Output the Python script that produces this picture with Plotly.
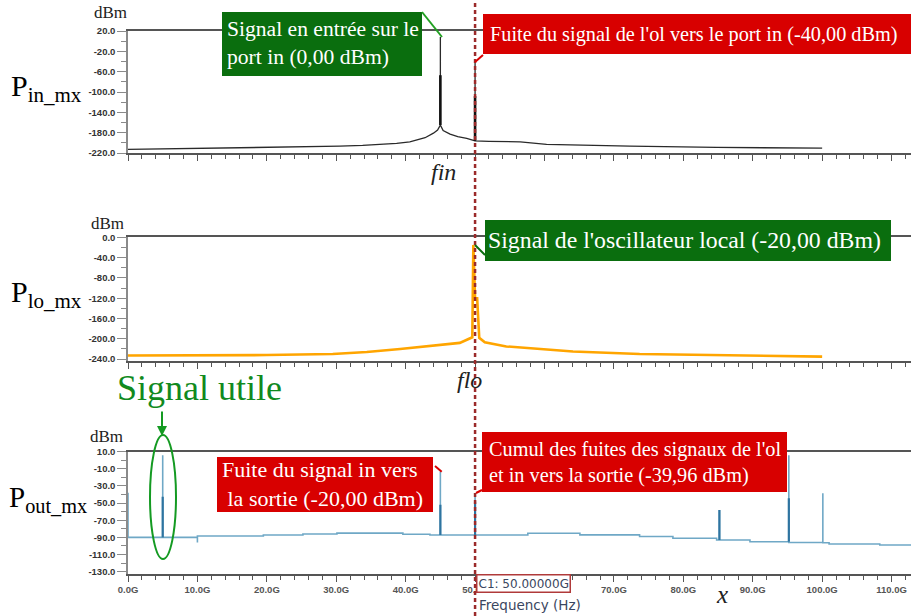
import plotly.graph_objects as go

# ---------------- data (frequency in GHz, power in dBm) ----------------
pin_freq = [0, 11.4, 21.0, 26.6, 30.5, 33.8, 36.8, 38.7, 40.6, 41.6, 42.8, 44.0, 44.6, 45.0, 45.0, 45.0,
            45.4, 46.4, 47.5, 48.8, 50.0, 50.0, 50.0, 52.0, 56.5, 60.3, 65.5, 72.3, 84.8, 100.0]
pin_power = [-213, -211, -209, -208, -206.6, -205, -203, -201, -198, -194, -190, -181, -175, -165, 8, -165,
             -176, -183, -188, -191, -196, -40, -196, -197, -198, -203, -205, -206.5, -209, -210.5]
pin_spike_freq = [45, 50]
pin_spike_base = [-165, -196]
pin_spike_top = [-67, -108]

plo_freq = [0, 20, 29.5, 34.4, 39.2, 43.9, 47.8, 49.6, 49.75, 50.0, 50.3, 50.6, 51.4, 54.5, 64.1, 73.7, 83.4, 100]
plo_power = [-233, -232, -230, -226, -220, -214, -208, -197, -15, -120, -120, -198, -207, -215, -225, -230, -232, -235]

pout_freq = [0, 0, 5, 5, 5, 10, 10, 10, 19.5, 25.2, 30.1, 39.6, 43.5, 45, 45, 45, 50, 50, 50,
             57.6, 65.1, 73.7, 78.5, 84.8, 85.2, 85.2, 85.2, 89.6, 95.2, 95.2, 95.2,
             100.1, 100.1, 100.1, 101, 108.3, 112.8]
pout_power = [-38, -90, -90, 6, -90, -90, -96, -88.4, -87.2, -86, -85, -86.4, -87.2, -87.2, -13, -87.2,
              -87.2, -38.5, -87.2, -85.2, -87, -89, -91, -93, -93, -58, -93, -95, -95, 6, -96,
              -96, -38.5, -96.2, -97.7, -98.9, -98.9]
pout_spike_freq = [5, 45, 50, 85.2, 95.2]
pout_spike_base = [-90, -87.2, -87.2, -93, -95]
pout_spike_top = [-42.5, -52, -48, -58, -44.4]

x_tick_vals = [0, 10, 20, 30, 40, 50, 60, 70, 80, 90, 100, 110]
x_tick_text = ["0.0G", "10.0G", "20.0G", "30.0G", "40.0G", "50.0G", "60.0G", "70.0G", "80.0G", "90.0G", "100.0G", "110.0G"]
pin_y_ticks = [20, -20, -60, -100, -140, -180, -220]
plo_y_ticks = [0, -40, -80, -120, -160, -200, -240]
pout_y_ticks = [10, -10, -30, -50, -70, -90, -110, -130]

# ---------------- figure ----------------
W, H = 911, 616


def px(x):
    return x / W


def py(y):
    return 1 - y / H


def spikes(freqs, bases, tops):
    xs, ys = [], []
    for f, b, t in zip(freqs, bases, tops):
        xs += [f, f, None]
        ys += [b, t, None]
    return xs, ys


fig = go.Figure()
fig.add_trace(go.Scatter(x=pin_freq, y=pin_power, mode="lines", line=dict(color="#2a2a2a", width=1.3),
                         xaxis="x", yaxis="y", hoverinfo="skip"))
sx, sy = spikes(pin_spike_freq, pin_spike_base, pin_spike_top)
fig.add_trace(go.Scatter(x=sx, y=sy, mode="lines", line=dict(color="#111111", width=2.6),
                         xaxis="x", yaxis="y", hoverinfo="skip"))
fig.add_trace(go.Scatter(x=plo_freq, y=plo_power, mode="lines", line=dict(color="#ffa500", width=2.6),
                         xaxis="x2", yaxis="y2", hoverinfo="skip"))
fig.add_trace(go.Scatter(x=pout_freq, y=pout_power, mode="lines", line=dict(color="#6fa8c6", width=1.6, shape="hv"),
                         xaxis="x3", yaxis="y3", hoverinfo="skip"))
sx, sy = spikes(pout_spike_freq, pout_spike_base, pout_spike_top)
fig.add_trace(go.Scatter(x=sx, y=sy, mode="lines", line=dict(color="#2e74a0", width=2.2),
                         xaxis="x3", yaxis="y3", hoverinfo="skip"))

xdom = [128 / W, 1]
tickfont = dict(family="Liberation Sans", size=9.5, color="#333333", weight="bold")


def xaxis(anchor, labels):
    return dict(domain=xdom, anchor=anchor, range=[0, 112.8], showgrid=False, zeroline=False,
                automargin=False,
                showline=True, linecolor="#555555", linewidth=1.5, mirror=True,
                ticks="outside", ticklen=6, tickcolor="#555555", tickwidth=1,
                tickvals=x_tick_vals, ticktext=x_tick_text, showticklabels=labels,
                tickfont=dict(family="Liberation Sans", size=9.5, color="#555555", weight="bold"),
                minor=dict(dtick=2, tick0=0, ticks="outside", ticklen=4, tickcolor="#555555", tickwidth=1))


def yaxis(anchor, dom, rng, ticks, minor_step):
    return dict(domain=dom, anchor=anchor, range=rng, showgrid=False, zeroline=False,
                automargin=False,
                showline=True, linecolor="#8a8a8a", linewidth=1.5,
                ticks="outside", ticklen=9, tickcolor="#8a8a8a", tickwidth=1,
                tickvals=ticks, ticktext=[f"{v:.1f}" for v in ticks], tickfont=tickfont,
                minor=dict(dtick=minor_step, tick0=ticks[0], ticks="outside", ticklen=5,
                           tickcolor="#8a8a8a", tickwidth=1))


fig.update_layout(
    width=W, height=H, autosize=False, margin=dict(l=0, r=0, t=0, b=0, pad=0),
    paper_bgcolor="white", plot_bgcolor="white", showlegend=False,
    xaxis=xaxis("y", False), xaxis2=xaxis("y2", False), xaxis3=xaxis("y3", True),
    yaxis=yaxis("x", [py(153), py(31)], [-220, 20], pin_y_ticks, 20),
    yaxis2=yaxis("x2", [py(361), py(237.3)], [-243.7, 0], plo_y_ticks, 20),
    yaxis3=yaxis("x3", [py(574), py(451.7)], [-132.7, 10], pout_y_ticks, 10),
)

GREEN = "#0a6e0e"
RED = "#d80000"
shapes = []
# marker line at 50 GHz
shapes.append(dict(type="line", xref="x3", yref="paper", x0=50, x1=50, y0=0, y1=1,
                   line=dict(color="#9b2a2a", width=2.5, dash="4px,3px"), layer="above"))
boxes = [(222, 12, 422, 76, GREEN), (483, 14, 911, 54, RED), (485, 220, 891, 261, GREEN),
         (217, 457, 433, 512, RED), (482, 432, 787, 492, RED)]
for x0, y0, x1, y1, c in boxes:
    shapes.append(dict(type="rect", xref="paper", yref="paper", x0=px(x0), x1=px(x1), y0=py(y1), y1=py(y0),
                       fillcolor=c, line=dict(width=0), layer="above"))
links = [(422, 12, 442, 37, "#22a022"), (475, 62, 483, 55, RED), (475, 245, 485, 255, GREEN),
         (435, 466, 441.7, 471.7, RED), (476, 493, 482, 490, RED)]
for x0, y0, x1, y1, c in links:
    shapes.append(dict(type="line", xref="paper", yref="paper", x0=px(x0), x1=px(x1), y0=py(y0), y1=py(y1),
                       line=dict(color=c, width=2), layer="above"))
# ellipse around useful signal
shapes.append(dict(type="circle", xref="paper", yref="paper", x0=px(150), x1=px(176), y0=py(559), y1=py(435),
                   line=dict(color="#149a22", width=2), layer="above"))
fig.update_layout(shapes=shapes)

SERIF = "Liberation Serif"
ann = []


def text(x, y, t, size, color="white", xanchor="left", family=SERIF, align="left"):
    ann.append(dict(x=px(x), y=py(y), xref="paper", yref="paper", text=t, showarrow=False,
                    xanchor=xanchor, yanchor="middle", align=align,
                    font=dict(family=family, size=size, color=color)))


text(225, 43, "Signal en entrée sur le<br>port in (0,00 dBm)", 21.6)
text(488, 34, "Fuite du signal de l'ol vers le port in (-40,00 dBm)", 20.3)
text(486, 240, "Signal de l'oscillateur local (-20,00 dBm)", 23.8)
text(220, 484, "Fuite du signal in vers<br>&nbsp;la sortie (-20,00 dBm)", 22)
text(487, 462, "Cumul des fuites des signaux de l'ol<br>et in vers la sortie (-39,96 dBm)", 20.3)
text(115, 388, "Signal utile", 36, color="#118a1e")
text(9, 88, "P<sub>in_mx</sub>", 30, color="black")
text(9, 294, "P<sub>lo_mx</sub>", 30, color="black")
text(7, 499, "P<sub>out_mx</sub>", 29, color="black")
text(110, 13, "dBm", 17, color="#222222", xanchor="center")
text(107, 223, "dBm", 17, color="#222222", xanchor="center")
text(106, 436, "dBm", 17, color="#222222", xanchor="center")
text(443, 172, "<i>fin</i>", 24, color="#222222", xanchor="center")
text(470, 380, "<i>flo</i>", 24, color="#222222", xanchor="center")
text(722, 594, "<i>x</i>", 25, color="#222222", xanchor="center")
text(530, 605, "Frequency (Hz)", 13.5, color="#3a4660", xanchor="center", family="DejaVu Sans")
ann.append(dict(x=px(476), y=py(583.5), xref="paper", yref="paper", text="C1: 50.00000G", showarrow=False,
                xanchor="left", yanchor="middle", bgcolor="white", bordercolor="#b03a3a", borderwidth=1.5,
                borderpad=1, font=dict(family="DejaVu Sans", size=12, color="#3a4660")))
# arrow to useful signal
ann.append(dict(x=px(162), y=py(436), xref="paper", yref="paper", ax=0, ay=-26,
                axref="pixel", ayref="pixel", text="", showarrow=True, arrowhead=2, arrowsize=1,
                arrowwidth=2, arrowcolor="#149a22"))
fig.update_layout(annotations=ann)

fig.write_html("out.html", config={"displayModeBar": False},
               post_script="document.body.style.margin='0';document.body.style.overflow='hidden';")
